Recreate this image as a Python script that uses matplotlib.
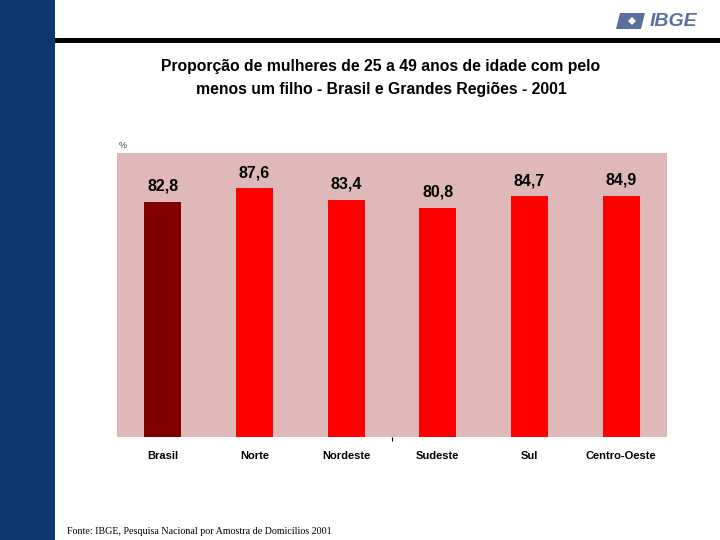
import matplotlib
matplotlib.use("Agg")
import matplotlib.pyplot as plt
from matplotlib.patches import Rectangle, Polygon

categories = ["Brasil", "Norte", "Nordeste", "Sudeste", "Sul", "Centro-Oeste"]
values = [82.8, 87.6, 83.4, 80.8, 84.7, 84.9]
value_labels = ["82,8", "87,6", "83,4", "80,8", "84,7", "84,9"]
bar_colors = ["#800000", "#ff0000", "#ff0000", "#ff0000", "#ff0000", "#ff0000"]

plt.rcParams['font.family'] = ['Liberation Sans', 'DejaVu Sans']

fig = plt.figure(figsize=(7.2, 5.4), dpi=100)
fig.patch.set_facecolor("white")

# Left navy sidebar
fig.patches.append(Rectangle((0, 0), 55/720, 1, transform=fig.transFigure,
                             facecolor="#0c386b", edgecolor="none", zorder=0))
# Top black rule
fig.patches.append(Rectangle((55/720, 1-43/540), 1-55/720, 5/540, transform=fig.transFigure,
                             facecolor="black", edgecolor="none", zorder=0))

# IBGE logo
fig.patches.append(Polygon([(620/720, 1-13/540), (645/720, 1-13/540), (641/720, 1-29/540), (616/720, 1-29/540)],
                           closed=True, transform=fig.transFigure, facecolor="#5b6f9e", edgecolor="none"))
fig.patches.append(Polygon([(628/720, 1-21/540), (632/720, 1-17/540), (636/720, 1-21/540), (632/720, 1-25/540)],
                           closed=True, transform=fig.transFigure, facecolor="white", edgecolor="none"))
fig.text(673/720, 1-21/540, "IBGE", ha="center", va="center", fontsize=14, fontweight="bold",
         fontstyle="italic", color="#5b6f9e")

# Title
fig.text(381/720, 1-78/540,
         "Proporção de mulheres de 25 a 49 anos de idade com pelo\nmenos um filho - Brasil e Grandes Regiões - 2001",
         ha="center", va="center", fontsize=11.3, fontweight="bold", linespacing=1.6)

ax = fig.add_axes([117/720, 103/540, 550/720, 284/540])
ax.set_facecolor("#dfb9b9")
x = list(range(len(categories)))
ax.bar(x, values, width=0.4, color=bar_colors, zorder=2)
ax.set_xlim(-0.5, len(categories) - 0.5)
ax.set_ylim(0, 100)
for xi, v, lab in zip(x, values, value_labels):
    ax.annotate(lab, (xi, v), xytext=(0, 11.3), textcoords="offset points",
                ha="center", va="center", fontsize=11.5, fontweight="bold")
for s in ax.spines.values():
    s.set_visible(False)
ax.set_yticks([])
ax.set_xticks(x)
ax.set_xticklabels(categories, fontsize=8, fontweight="bold")
ax.tick_params(axis="x", length=0, pad=10)
ax.set_xticks([2.5], minor=True)
ax.tick_params(axis="x", which="minor", length=3, width=0.8, color="black")

fig.text(123/720, 1-145/540, "%", ha="center", va="center", fontsize=6.5, color="#444444")

fig.text(67/720, 1-531/540, "Fonte: IBGE, Pesquisa Nacional por Amostra de Domicílios 2001",
         ha="left", va="center", fontsize=7.2, family=["Liberation Serif", "DejaVu Serif"])

fig.savefig("out.png", dpi=100)
